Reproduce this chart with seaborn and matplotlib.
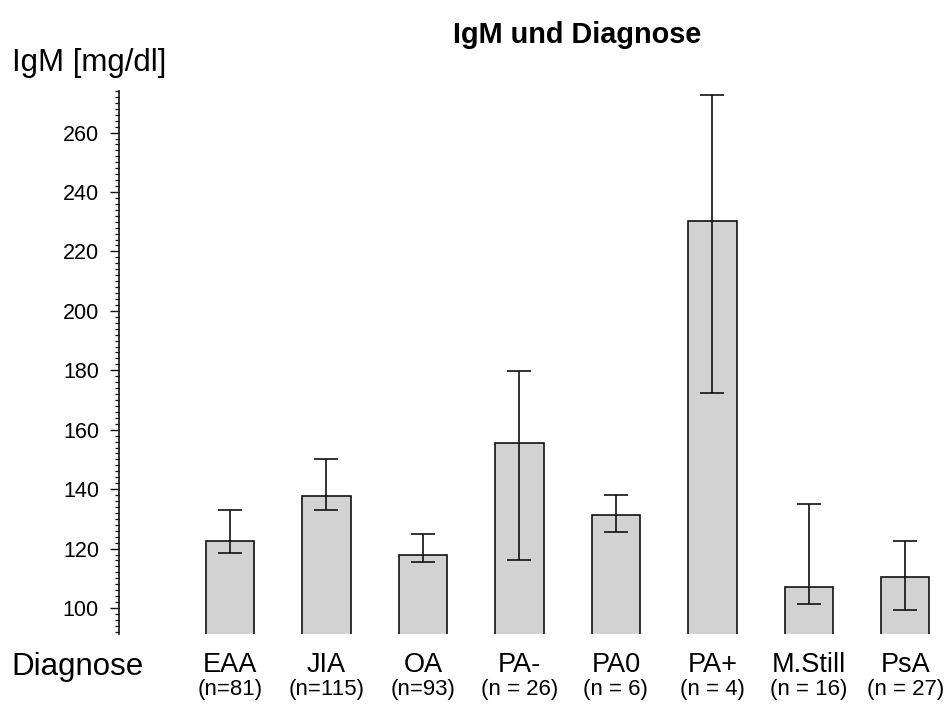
import matplotlib
matplotlib.use("Agg")
import matplotlib.pyplot as plt
from matplotlib.ticker import MultipleLocator
import numpy as np
import pandas as pd
import seaborn as sns

# IgM mean per diagnosis group with lower/upper interval bounds
categories = ["EAA", "JIA", "OA", "PA-", "PA0", "PA+", "M.Still", "PsA"]
group_sizes = ["(n=81)", "(n=115)", "(n=93)", "(n = 26)", "(n = 6)", "(n = 4)", "(n = 16)", "(n = 27)"]
igm_mean = [122.7, 137.7, 117.7, 155.5, 131.2, 230.2, 107.1, 110.4]
igm_lower = [118.4, 132.9, 115.5, 116.3, 125.5, 172.4, 101.2, 99.3]
igm_upper = [133.0, 150.3, 125.0, 179.8, 138.0, 272.6, 134.9, 122.7]

sns.set_style("ticks")
plt.rcParams["font.family"] = ["Liberation Sans", "DejaVu Sans"]
plt.rcParams["text.color"] = "black"
plt.rcParams["xtick.color"] = "black"
plt.rcParams["ytick.color"] = "black"

df = pd.DataFrame({"Diagnose": categories, "IgM": igm_mean})

fig = plt.figure(figsize=(9.47, 7.13), dpi=100)
ax = fig.add_axes([0.1257, 0.1108, 0.867, 0.7616])

sns.barplot(data=df, x="Diagnose", y="IgM", ax=ax, color="#d2d2d2",
            saturation=1, edgecolor="#111111", linewidth=1.2, width=0.5,
            errorbar=None)

xpos = np.arange(len(categories))
means = np.array(igm_mean)
yerr = np.vstack([means - np.array(igm_lower), np.array(igm_upper) - means])
ax.errorbar(xpos, means, yerr=yerr, fmt="none", ecolor="#111111",
            elinewidth=1.2, capsize=8.5, capthick=1.2)

ax.set_xlim(-1.15, 7.36)
ax.set_ylim(91.25, 274)

# y axis: labelled ticks every 20, minor ticks every 2
ax.yaxis.set_major_locator(MultipleLocator(20))
ax.yaxis.set_minor_locator(MultipleLocator(2))
ax.set_yticks(np.arange(100, 261, 20))
ax.tick_params(axis="y", which="major", length=6.5, width=1.0, labelsize=15.5,
               direction="out", colors="#111111", labelcolor="black", pad=8)
ax.tick_params(axis="y", which="minor", length=3, width=0.9,
               direction="out", colors="#111111")

# x axis: category names only, no tick marks
ax.set_xticks(xpos)
ax.set_xticklabels(categories)
ax.tick_params(axis="x", which="both", length=0, labelsize=19.5, pad=13,
               labelcolor="black")

for s in ["top", "right", "bottom"]:
    ax.spines[s].set_visible(False)
ax.spines["left"].set_linewidth(1.2)
ax.spines["left"].set_color("#111111")

ax.set_xlabel("")
ax.set_ylabel("")

# group sizes beneath the category names
trans = ax.get_xaxis_transform()
for x, n in zip(xpos, group_sizes):
    ax.text(x, -0.1013, n, transform=trans, ha="center", va="center",
            fontsize=16, clip_on=False)

fig.text(77 / 947, 0.0645, "Diagnose", ha="center", va="center", fontsize=22.5)
fig.text(12 / 947, 0.9123, "IgM [mg/dl]", ha="left", va="center", fontsize=22.5)
fig.text(0.609, 0.951, "IgM und Diagnose", ha="center", va="center",
         fontsize=20.8, fontweight="bold")

fig.savefig("out.png", dpi=100)
